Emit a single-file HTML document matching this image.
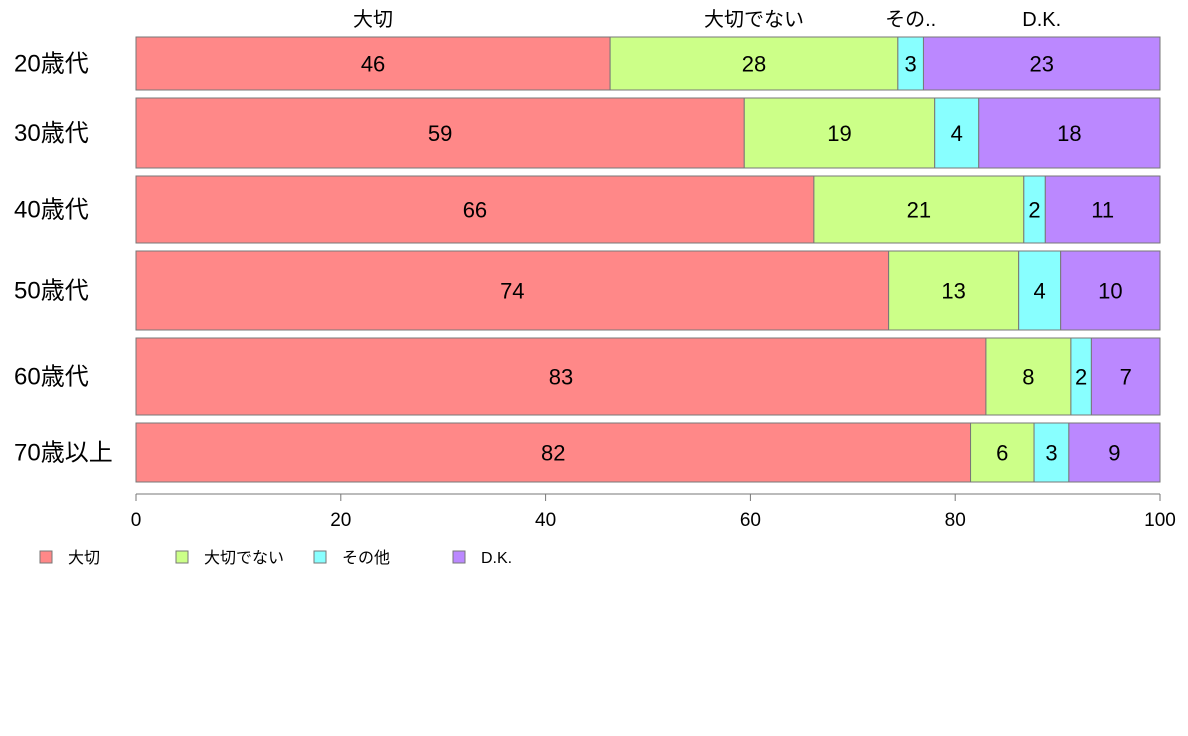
<!DOCTYPE html>
<html><head><meta charset="utf-8">
<style>
body{margin:0;background:#fff;}
svg{display:block;font-family:"Liberation Sans","Noto Sans CJK JP",sans-serif;}
</style></head>
<body>
<svg id="chart" width="1188" height="736" viewBox="0 0 1188 736"></svg>
<script>
const categories = ["20歳代","30歳代","40歳代","50歳代","60歳代","70歳以上"];
const seriesNames = ["大切","大切でない","その他","D.K."];
const topLabels = ["大切","大切でない","その..","D.K."];
const important = [46.3, 59.4, 66.2, 73.5, 83.0, 81.5];
const notImportant = [28.1, 18.6, 20.5, 12.7, 8.3, 6.2];
const other = [2.5, 4.3, 2.1, 4.1, 2.0, 3.4];
const dk = [23.1, 17.7, 11.2, 9.7, 6.7, 8.9];
const rowWeights = [53, 70, 67, 79, 77, 59];
const xTicks = [0,20,40,60,80,100];
const colors = ["#FF8888","#CCFF88","#88FFFF","#BB88FF"];

const NS="http://www.w3.org/2000/svg";
const svg=document.getElementById('chart');
const x0=136,x1=1160,yTop=37,yBot=482,gap=8;
const xs=v=>x0+(v/100)*(x1-x0);
function mk(tag,attrs,parent){const e=document.createElementNS(NS,tag);for(const k in attrs)e.setAttribute(k,attrs[k]);(parent||svg).appendChild(e);return e;}
const series=[important,notImportant,other,dk];
const totalW=rowWeights.reduce((a,b)=>a+b,0);
const avail=(yBot-yTop)-gap*(categories.length-1);
let y=yTop;
categories.forEach((c,i)=>{
  const h=avail*rowWeights[i]/totalW;
  const g=mk('g',{});
  
  
  const lab=mk('text',{x:14,y:y+h/2+8,'font-size':24,fill:'#000'},g);
  lab.textContent=c;
  
  
  let cum=0;
  series.forEach((s,j)=>{
    const v=s[i];
    const r=mk('rect',{x:xs(cum),y:y,width:xs(cum+v)-xs(cum),height:h,fill:colors[j],stroke:'#777','stroke-width':1},g);
    
    
    const t=mk('text',{x:(xs(cum)+xs(cum+v))/2,y:y+h/2+8,'font-size':22,'text-anchor':'middle',fill:'#000'},g);
    t.textContent=Math.round(v);
    
    
    if(i===0){
      const tl=mk('text',{x:(xs(cum)+xs(cum+v))/2,y:26,'font-size':20,'text-anchor':'middle',fill:'#000'});
      tl.textContent=topLabels[j];
      
      
    }
    cum+=v;
  });
  y+=h+gap;
});
// axis
const ax=mk('line',{x1:x0,x2:x1,y1:494,y2:494,stroke:'#777'});


xTicks.forEach(t=>{
  const tk=mk('line',{x1:xs(t),x2:xs(t),y1:494,y2:501,stroke:'#777'});
  
  
  const tl=mk('text',{x:xs(t),y:526,'font-size':19,'text-anchor':'middle',fill:'#000'});
  tl.textContent=t;
  
  
});
// legend
const lx=[40,176,314,453];
seriesNames.forEach((n,j)=>{
  const g=mk('g',{});
  
  
  mk('rect',{x:lx[j],y:551,width:12,height:12,fill:colors[j],stroke:'#777'},g);
  const t=mk('text',{x:lx[j]+28,y:563,'font-size':16,fill:'#000'},g);
  t.textContent=n;
});
</script>
</body></html>
